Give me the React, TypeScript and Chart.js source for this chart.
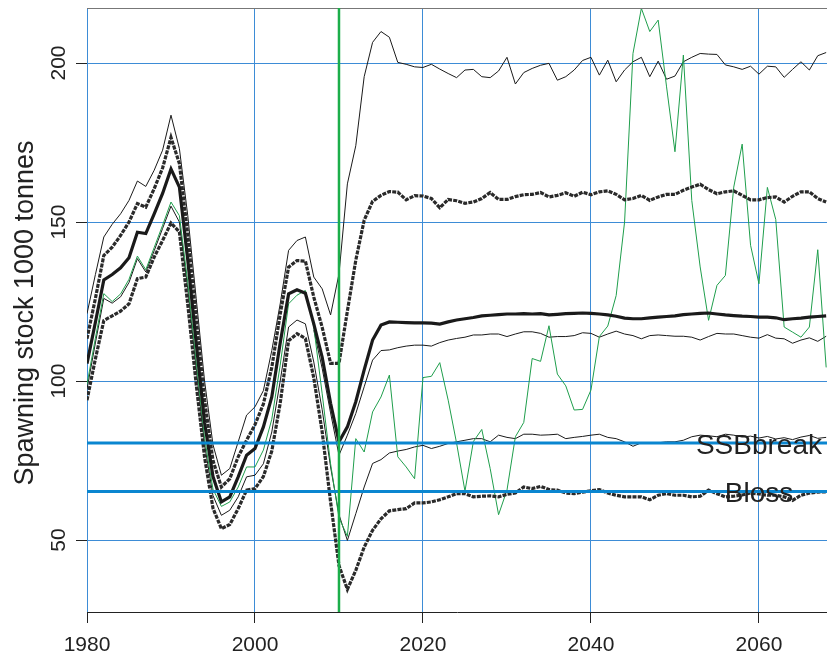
import React, { useEffect, useRef } from "react";
import { Chart, registerables } from "chart.js";

Chart.register(...registerables);

// ---- categories (years) ----
const firstYear = 1980;
const lastYear = 2068;
const years: number[] = [];
for (let yr = firstYear; yr <= lastYear; yr++) years.push(yr);

// ---- tick labels ----
const xTicks = [1980, 2000, 2020, 2040, 2060];
const yTicks = [50, 100, 150, 200];
const yTitle = "Spawning stock 1000 tonnes";

// ---- reference points ----
const refNames = ["SSBbreak", "Bloss"];
const refValues = [80.5, 65.3];
const refLabelYear = 2060;
const projectionStart = 2010;

// ---- series (1980..2068) ----
const upperThin = [
  121.2, 133.5, 145.3, 149.3, 152.6, 156.8, 162.9, 161.2, 166.3, 172.6,
  183.6, 173.1, 152, 126, 100, 80, 70.4, 72.5, 80.9, 89.3,
  91.9, 97, 109.6, 124.3, 141.1, 144.2, 145.3, 132.7, 129, 120.8,
  133.7, 162, 174, 195.7, 206.5, 209.9, 208.1, 200.2, 199.6, 198.8,
  198.6, 199.6, 198.1, 196.7, 195.4, 197.8, 198, 195.7, 195.4, 197.5,
  201.8, 193.4, 197, 198.3, 199.3, 199.9, 194.6, 195.7, 197.8, 200.8,
  201.8, 196.2, 200.9, 194.1, 197.8, 200.4, 201.8, 195.7, 200.6, 194.9,
  195.9, 200.4, 201.8, 203, 202.8, 202.7, 199.4, 198.8, 198, 199,
  196.5, 199, 198.8, 195.5, 198, 200.4, 197.8, 202.3, 203.3,
];

const upperDotted = [
  113.3, 126, 139.5, 142.1, 145.8, 150, 155.8, 154.7, 160.5, 167,
  176.6, 168.4, 146, 120, 94, 75, 66.7, 69.3, 76.2, 81.4,
  86.3, 92.8, 104.3, 121, 135.8, 137.9, 137.7, 126.4, 116.9, 105.6,
  105.6, 122, 138, 150.6, 156.5, 158.4, 159.6, 159.4, 157, 158.3,
  158.2, 157.4, 154.5, 157.1, 156.7, 155.9, 156.3, 157.4, 159.3, 157.1,
  157.1, 158, 158.6, 158.7, 159.3, 157.9, 158.4, 159.2, 158.1, 159.4,
  158.6, 159.5, 159.8, 158.7, 157, 157.4, 158.4, 156.8, 157.9, 158.7,
  158.7, 160, 161, 161.9, 160.2, 158.9, 159.5, 159.8, 158.4, 157,
  157, 157.7, 157.9, 156.3, 158.1, 159.5, 159.5, 157.4, 156.3,
];

const median = [
  105.5, 118.5, 131.8, 133.5, 135.6, 138.8, 146.8, 146.4, 152.6, 159,
  166.7, 161, 138, 112, 87, 70, 62, 63.6, 69.9, 76.7,
  78.8, 85.6, 95, 112, 127.4, 128.7, 127.6, 118, 107.5, 93,
  80.9, 85.6, 93.5, 103.5, 112.9, 117.6, 118.6, 118.5, 118.4, 118.3,
  118.3, 118.2, 117.9, 118.6, 119.2, 119.6, 120, 120.5, 120.7, 120.9,
  121.1, 121.1, 121.2, 121.1, 121.2, 120.8, 121, 121.2, 121.3, 121.4,
  121.3, 121.1, 120.8, 120.4, 119.8, 119.6, 119.6, 119.9, 120.1, 120.3,
  120.5, 120.9, 121.1, 121.3, 121.4, 121.1, 120.8, 120.6, 120.4, 120.3,
  120.1, 120.1, 119.9, 119.3, 119.6, 119.8, 120.1, 120.3, 120.5,
];

const midThin = [
  null, null, null, null, null, null, null, null, null, null,
  null, null, null, null, null, null, null, null, null, null,
  null, null, null, null, null, null, null, 116, 104, 90,
  76.7, 83, 89.8, 98.2, 106.6, 109.6, 109.8, 110.5, 111, 111.3,
  111.3, 111, 112.1, 112.9, 113.4, 113.8, 114.5, 114.5, 114.8, 114.8,
  114, 114.8, 115.5, 115.5, 115, 113.8, 114, 114, 114.3, 115.2,
  115, 113.8, 114.8, 115.7, 114.8, 114.3, 113.3, 114.3, 114.5, 114.3,
  114.1, 114.1, 113.8, 112.9, 114, 115, 114.8, 114.8, 114.3, 113.8,
  113.5, 114.6, 113.5, 113.3, 111.9, 112.9, 113.6, 112.5, 114.1,
];

const lowerThin = [
  97.5, 112, 126, 124.5, 126.5, 131, 138.5, 134.3, 141, 148,
  155, 150, 129, 104, 80, 64, 57.8, 59.4, 63.6, 69.9,
  70.4, 74, 84, 100, 117, 119.2, 118, 106, 91, 73,
  58, 49.9, 58.3, 66.7, 74.1, 75.3, 77.4, 78, 78.5, 79.3,
  79.8, 78.8, 79.5, 80.4, 80.9, 81.4, 81.9, 81.9, 80.9, 83,
  82.3, 81.9, 83.3, 83.3, 83, 83.1, 83.3, 81.9, 82.3, 82.6,
  83, 83.3, 82.3, 81.9, 80.9, 79.5, 80.6, 80.4, 80.6, 80.9,
  80.9, 81.4, 82.5, 83, 82.8, 82.5, 83.3, 83, 82.4, 82.7,
  82.1, 82.6, 81.8, 82.2, 81.6, 82.4, 82.9, 82, 82.3,
];

const lowerDotted = [
  94, 107, 119, 120.5, 122, 124.3, 132.2, 132.7, 139, 144.2,
  149.7, 146.9, 124, 99, 76, 60, 53.6, 54.9, 59.9, 65.7,
  66.2, 70, 78, 93, 112.7, 114.9, 113.4, 101, 84, 62,
  42, 34.5, 40.5, 47.8, 53.1, 56.7, 59.2, 59.6, 59.9, 61.7,
  61.7, 62, 62.7, 63.6, 64.6, 64.6, 63.6, 63.8, 63.9, 63.6,
  64.4, 64.8, 66.7, 66.2, 66.9, 65.9, 65.7, 64.8, 64.6, 65.1,
  65.5, 65.9, 64.8, 64.1, 63.6, 63.6, 63.6, 62.7, 64.1, 64.6,
  64.1, 64.1, 63.6, 63.8, 65.7, 64.6, 63.6, 63.8, 64.2, 64.8,
  64.5, 64.1, 64.1, 63.6, 62.5, 64.1, 64.8, 65.1, 65.2,
];

const trajectory = [
  99, 113.5, 127.5, 125, 127.4, 132, 139.3, 135, 142, 149,
  156.3, 152, 131, 106, 82, 66, 60.6, 62, 66.7, 73,
  73, 78.3, 88, 105, 124.3, 127, 128.5, 117, 96, 74,
  57, 51.2, 81.9, 77.7, 90.3, 95, 101.9, 76.2, 73, 69.3,
  101.1, 101.5, 105.8, 94, 80.5, 65.4, 81, 84.8, 72.5, 58,
  65.7, 82.5, 87, 107.1, 106.2, 117.4, 102.2, 98.5, 90.9, 91.1,
  97.2, 114, 117.3, 126.9, 150, 203, 217.2, 209.9, 213.5, 192.5,
  172.1, 202.5, 156.8, 135.9, 119.1, 130.1, 133.2, 161, 174.5, 142.7,
  130.6, 160.9, 150.8, 117, 115.4, 113.8, 117, 141.3, 104.3,
];

const FONT = "'Liberation Sans', Arial, Helvetica, sans-serif";
const TEXT = "#222";

function pts(arr: (number | null)[]) {
  return years.map((yr, i) => ({ x: yr, y: arr[i] }));
}

const overlayPlugin = {
  id: "overlay",
  afterDatasetsDraw(chart: any) {
    const { ctx, chartArea: a, scales } = chart;
    const x = scales.x;
    const y = scales.y;
    ctx.save();
    // top frame
    ctx.strokeStyle = "#777";
    ctx.lineWidth = 1;
    ctx.beginPath();
    ctx.moveTo(a.left, a.top + 0.5);
    ctx.lineTo(a.right, a.top + 0.5);
    ctx.stroke();
    // reference lines
    ctx.strokeStyle = "#0a86d0";
    ctx.lineWidth = 3;
    refValues.forEach((v) => {
      const py = y.getPixelForValue(v);
      ctx.beginPath();
      ctx.moveTo(a.left, py);
      ctx.lineTo(a.right, py);
      ctx.stroke();
    });
    // projection start line
    const px = x.getPixelForValue(projectionStart);
    ctx.strokeStyle = "#1cae4a";
    ctx.lineWidth = 2.5;
    ctx.beginPath();
    ctx.moveTo(px, a.top);
    ctx.lineTo(px, a.bottom);
    ctx.stroke();
    // reference labels
    ctx.fillStyle = TEXT;
    ctx.font = `28px ${FONT}`;
    ctx.textAlign = "center";
    ctx.textBaseline = "alphabetic";
    const lx = x.getPixelForValue(refLabelYear);
    refValues.forEach((v, i) => {
      ctx.fillText(refNames[i], lx, y.getPixelForValue(v) + 11);
    });
    ctx.restore();
  },
  afterDraw(chart: any) {
    const { ctx, chartArea: a, scales } = chart;
    const x = scales.x;
    const y = scales.y;
    ctx.save();
    ctx.fillStyle = TEXT;
    ctx.font = `21px ${FONT}`;
    ctx.textAlign = "center";
    ctx.textBaseline = "alphabetic";
    xTicks.forEach((t) => {
      ctx.fillText(String(t), x.getPixelForValue(t), a.bottom + 39);
    });
    yTicks.forEach((t) => {
      ctx.save();
      ctx.translate(a.left - 22, y.getPixelForValue(t));
      ctx.rotate(-Math.PI / 2);
      ctx.fillText(String(t), 0, 0);
      ctx.restore();
    });
    ctx.font = `27px ${FONT}`;
    ctx.save();
    ctx.translate(33, (a.top + a.bottom) / 2 + 3);
    ctx.rotate(-Math.PI / 2);
    ctx.fillText(yTitle, 0, 0);
    ctx.restore();
    ctx.restore();
  },
};

export default function App() {
  const ref = useRef<HTMLCanvasElement | null>(null);
  useEffect(() => {
    if (!ref.current) return;
    const thin = (data: any, color = "#1a1a1a") => ({
      data,
      borderColor: color,
      borderWidth: 1,
      pointRadius: 0,
      tension: 0,
      fill: false,
    });
    const dotted = (data: any) => ({
      data,
      borderColor: "#2a2a2a",
      borderWidth: 3.2,
      borderDash: [4, 1.2],
      pointRadius: 0,
      tension: 0,
      fill: false,
    });
    const chart = new Chart(ref.current, {
      type: "line",
      data: {
        datasets: [
          {
            data: pts(median),
            borderColor: "#1a1a1a",
            borderWidth: 3.2,
            pointRadius: 0,
            tension: 0,
            fill: false,
          },
          dotted(pts(upperDotted)),
          dotted(pts(lowerDotted)),
          thin(pts(trajectory), "#1f9e4c"),
          thin(pts(upperThin)),
          thin(pts(midThin)),
          thin(pts(lowerThin)),
        ] as any,
      },
      options: {
        animation: false,
        responsive: false,
        devicePixelRatio: 1,
        layout: { padding: { top: 8, left: 0, right: 0, bottom: 0 } },
        plugins: { legend: { display: false }, tooltip: { enabled: false } },
        scales: {
          x: {
            type: "linear",
            min: 1980,
            max: 2068.1,
            afterBuildTicks: (s: any) => {
              s.ticks = xTicks.map((v) => ({ value: v }));
            },
            afterFit: (s: any) => {
              s.height = 45;
            },
            ticks: { display: false },
            grid: {
              color: "#3d8cd6",
              lineWidth: 1,
              drawTicks: true,
              tickLength: 11,
              tickColor: "#222",
            },
            border: { display: true, color: "#222", width: 1 },
          },
          y: {
            type: "linear",
            min: 27.4,
            max: 217.3,
            afterBuildTicks: (s: any) => {
              s.ticks = yTicks.map((v) => ({ value: v }));
            },
            afterFit: (s: any) => {
              s.width = 87;
            },
            ticks: { display: false },
            grid: {
              color: "#3d8cd6",
              lineWidth: 1,
              drawTicks: true,
              tickLength: 11,
              tickColor: "#222",
            },
            border: { display: false },
          },
        },
      } as any,
      plugins: [overlayPlugin],
    });
    return () => chart.destroy();
  }, []);
  return (
    <div style={{ position: "fixed", left: 0, top: 0, width: 827, height: 657, background: "#fff" }}>
      <canvas ref={ref} width={827} height={657} style={{ display: "block" }} />
    </div>
  );
}
